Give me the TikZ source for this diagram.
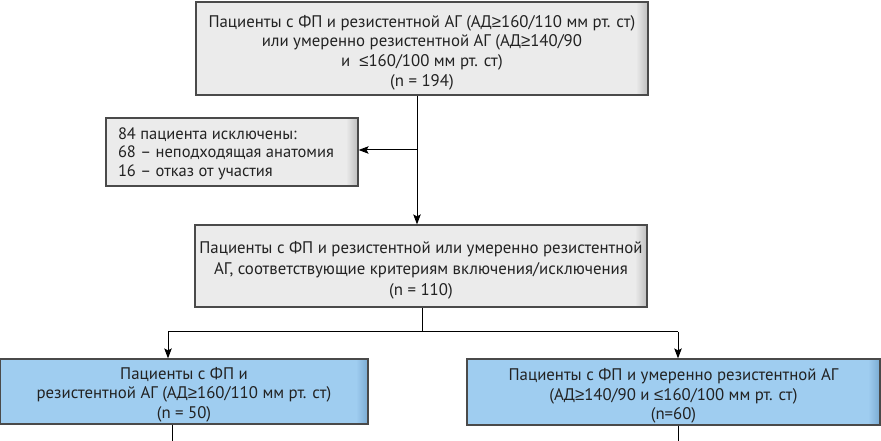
\documentclass[tikz,border=0pt]{standalone}
\usepackage{fontspec}
\setmainfont{PT Sans}
\newfontfamily\symfnt{Liberation Sans}
\newcommand\mygeq{{\symfnt ≥}}
\newcommand\myleq{{\symfnt ≤}}
\newcommand\lowerby[1]{\rule{0pt}{\dimexpr0.7\baselineskip+#1\relax}}
\usetikzlibrary{arrows.meta,calc}
\definecolor{grayfill}{HTML}{EBEBEB}
\definecolor{grayedge}{HTML}{BDBDBD}
\definecolor{bluefill}{HTML}{9FCDF0}
\definecolor{blueedge}{HTML}{7AAAD2}
\definecolor{boxline}{HTML}{4A4A4A}
\definecolor{txt}{HTML}{222222}
\tikzset{
  edgeshade/.style 2 args={path picture={
    \shade[top color=#1, bottom color=#2]
      ($(path picture bounding box.south west)+(0,12)$) rectangle (path picture bounding box.south east);
    \shade[left color=#1, right color=#2]
      ($(path picture bounding box.north east)+(-12,0)$) rectangle (path picture bounding box.south east);
  }},
  graybox/.style={draw=boxline, line width=1.2bp, fill=grayfill, edgeshade={grayfill}{grayedge},
    inner sep=0pt, align=center, text=txt, font=\fontsize{16.8bp}{19.8bp}\selectfont},
  bluebox/.style={draw=boxline, line width=1.2bp, fill=bluefill, edgeshade={bluefill}{blueedge},
    inner sep=0pt, align=center, text=txt, font=\fontsize{16.8bp}{19.8bp}\selectfont},
  conn/.style={line width=1bp, draw=black},
  arr/.style={conn, -{Stealth[length=10bp,width=7.5bp,inset=2bp]}},
}
\begin{document}
\begin{tikzpicture}[x=1bp,y=-1bp]
\useasboundingbox (0,0) rectangle (881,441);
\node[graybox, minimum width=452bp, minimum height=93bp] (b1) at (422,48.5)
  {\lowerby{6.5bp}Пациенты с ФП и резистентной АГ (АД\mygeq160/110 мм рт. ст)\\
   или умеренно резистентной АГ (АД\mygeq140/90\\
   и \ \myleq160/100 мм рт. ст)\\
   (n = 194)};
\node[graybox, minimum width=252bp, minimum height=68bp, align=left,
  font=\fontsize{16.5bp}{18.5bp}\selectfont] (ex) at (232,152)
  {\lowerby{1.5bp}\makebox[228bp][l]{84 пациента исключены:}\\
   68 – неподходящая анатомия\\
   16 – отказ от участия};
\node[graybox, minimum width=452bp, minimum height=82bp,
  font=\fontsize{16.8bp}{21bp}\selectfont] (b2) at (421,266)
  {\lowerby{6.5bp}Пациенты с ФП и резистентной или умеренно резистентной\\
   АГ, соответствующие критериям включения/исключения\\
   (n = 110)};
\node[bluebox, minimum width=368bp, minimum height=65bp] (b3) at (184,391.5)
  {\lowerby{4.5bp}Пациенты с ФП и\\
   резистентной АГ (АД\mygeq160/110 мм рт. ст)\\
   (n = 50)};
\node[bluebox, minimum width=413bp, minimum height=66bp] (b4) at (673.5,392)
  {\lowerby{6bp}Пациенты с ФП и умеренно резистентной АГ\\
   (АД\mygeq140/90 и \myleq160/100 мм рт. ст)\\
   (n=60)};
\coordinate (j1) at (417,150);
\coordinate (j2) at (422,332);
\coordinate (jl) at (168,332);
\coordinate (jr) at (678,332);
\coordinate (e3) at (172,441);
\coordinate (e4) at (678,441);
\draw[conn] (b1.south -| j1) -- (j1);
\draw[arr] (j1) -- (b2.north -| j1);
\draw[arr] (j1) -- (j1 -| ex.east);
\draw[conn] (b2.south -| j2) -- (j2);
\draw[conn] (jl) -- (jr);
\draw[arr] (jl) -- (b3.north -| jl);
\draw[arr] (jr) -- (b4.north -| jr);
\draw[conn] (b3.south -| e3) -- (e3);
\draw[conn] (b4.south -| e4) -- (e4);
\end{tikzpicture}
\end{document}
